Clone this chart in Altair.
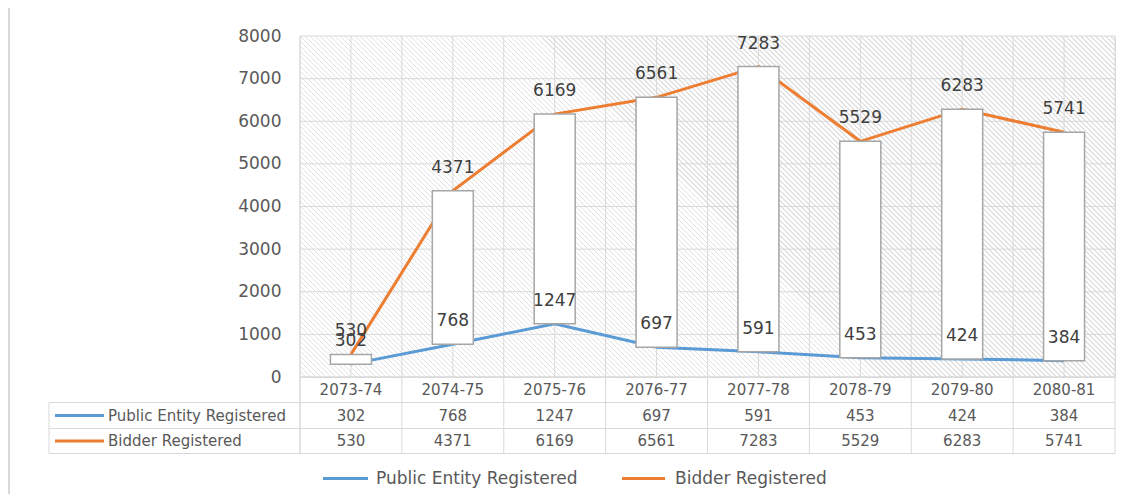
import altair as alt
import pandas as pd

# ---- data ----
categories = ["2073-74", "2074-75", "2075-76", "2076-77", "2077-78", "2078-79", "2079-80", "2080-81"]
public_entity = [302, 768, 1247, 697, 591, 453, 424, 384]
bidder = [530, 4371, 6169, 6561, 7283, 5529, 6283, 5741]
series_names = ["Public Entity Registered", "Bidder Registered"]
series_colors = ["#5B9BD5", "#ED7D31"]
y_ticks = [0, 1000, 2000, 3000, 4000, 5000, 6000, 7000, 8000]

# ---- layout ----
W, H = 815, 341
FONT = "DejaVu Sans"
TXT = "#595959"
GRID = "#d9d9d9"

# hatch pattern as a striped linear gradient (backslash stripes)
P = 5.0
N = int(round((W + H) / P))
t = (W + H) / (W * W + H * H)
HC = "#e2e2e2"
stops = []
for k in range(N):
    a = k / N
    b = (k + 0.3) / N
    c = (k + 1) / N
    stops += [{"offset": a, "color": HC}, {"offset": b, "color": HC},
              {"offset": b, "color": "#ffffff"}, {"offset": c, "color": "#ffffff"}]
hatch = {"gradient": "linear", "x1": 0, "y1": 1, "x2": t * W, "y2": 1 - t * H, "stops": stops}

df = pd.DataFrame({"cat": categories, "public": public_entity, "bidder": bidder})
long = pd.DataFrame({
    "cat": categories * 2,
    "series": [series_names[0]] * len(categories) + [series_names[1]] * len(categories),
    "value": public_entity + bidder,
})
ticks_df = pd.DataFrame({"v": y_ticks})
one = pd.DataFrame({"a": [0]})
legend_df = pd.DataFrame({"series": series_names, "color": series_colors})

xs = alt.Scale(domain=categories, type="band", paddingInner=0, paddingOuter=0)
ys = alt.Scale(domain=[0, 8000], nice=False, zero=True)
col_scale = alt.Scale(domain=series_names, range=series_colors)

X0 = alt.X("cat:N", scale=xs, axis=None, bandPosition=0)
XC = alt.X("cat:N", scale=xs, axis=None, bandPosition=0.5)

bg = alt.Chart(one).mark_rect(fill=hatch, strokeWidth=0).encode(
    x=alt.value(0), x2=alt.value(W), y=alt.value(0), y2=alt.value(H))

vgrid_edges = alt.Chart(df).mark_rule(color=GRID, strokeWidth=1).encode(
    x=X0, y=alt.value(0), y2=alt.value(H + 76.5))
vgrid_mid = alt.Chart(df).mark_rule(color=GRID, strokeWidth=1).encode(
    x=XC, y=alt.value(0), y2=alt.value(H))
right_edge = alt.Chart(one).mark_rule(color=GRID, strokeWidth=1).encode(
    x=alt.value(W), y=alt.value(0), y2=alt.value(H + 76.5))

hgrid = alt.Chart(ticks_df).mark_rule(color=GRID, strokeWidth=1).encode(
    y=alt.Y("v:Q", scale=ys, axis=alt.Axis(values=y_ticks, format="d", grid=False, ticks=False, domain=False,
                                             labelFont=FONT, labelFontSize=17, labelColor=TXT,
                                             labelPadding=19, title=None)),
    x=alt.value(0), x2=alt.value(W))

lines = alt.Chart(long).mark_line(strokeWidth=3).encode(
    x=XC,
    y=alt.Y("value:Q", scale=ys),
    color=alt.Color("series:N", scale=col_scale, legend=None),
    detail="series:N",
)

bars = alt.Chart(df).mark_bar(size=41, fill="white", stroke="#a6a6a6", strokeWidth=1.5).encode(
    x=alt.X("cat:N", scale=xs, axis=None),
    y=alt.Y("public:Q", scale=ys),
    y2="bidder:Q",
)

lab_b = alt.Chart(df).mark_text(font=FONT, fontSize=17, color="#404040", dy=-23, baseline="middle").encode(
    x=XC, y=alt.Y("bidder:Q", scale=ys), text="bidder:Q")
lab_p = alt.Chart(df).mark_text(font=FONT, fontSize=17, color="#404040", dy=-23, baseline="middle").encode(
    x=XC, y=alt.Y("public:Q", scale=ys), text="public:Q")

# ---- data table below the plot ----
row_y = [H + 38.5, H + 64]
table_hlines = [
    alt.Chart(one).mark_rule(color=GRID, strokeWidth=1).encode(
        x=alt.value(0), x2=alt.value(W), y=alt.value(H), y2=alt.value(H)),
]
for yy in [H + 25.5, H + 51.5, H + 76.5]:
    table_hlines.append(alt.Chart(one).mark_rule(color=GRID, strokeWidth=1).encode(
        x=alt.value(-251), x2=alt.value(W), y=alt.value(yy), y2=alt.value(yy)))
table_left = alt.Chart(one).mark_rule(color=GRID, strokeWidth=1).encode(
    x=alt.value(-251), y=alt.value(H + 25.5), y2=alt.value(H + 76.5))
plot_left = alt.Chart(one).mark_rule(color=GRID, strokeWidth=1).encode(
    x=alt.value(0), y=alt.value(0), y2=alt.value(H + 76.5))

header = alt.Chart(df).mark_text(font=FONT, fontSize=15, color=TXT, baseline="middle").encode(
    x=XC, y=alt.value(H + 12.5), text="cat:N")
row_pub = alt.Chart(df).mark_text(font=FONT, fontSize=15, color=TXT, baseline="middle").encode(
    x=XC, y=alt.value(row_y[0]), text="public:Q")
row_bid = alt.Chart(df).mark_text(font=FONT, fontSize=15, color=TXT, baseline="middle").encode(
    x=XC, y=alt.value(row_y[1]), text="bidder:Q")

row_keys = []
for i in range(2):
    sub = legend_df.iloc[[i]]
    row_keys.append(alt.Chart(sub).mark_rule(strokeWidth=3, color=series_colors[i]).encode(
        x=alt.value(-245), x2=alt.value(-196), y=alt.value(row_y[i]), y2=alt.value(row_y[i])))
    row_keys.append(alt.Chart(sub).mark_text(font=FONT, fontSize=15, color=TXT, align="left",
                                             baseline="middle").encode(
        x=alt.value(-192), y=alt.value(row_y[i]), text="series:N"))

# ---- bottom legend ----
LY = 442.5
leg_pos = [(23, 68, 76), (322, 365, 375)]
legend_layers = []
for i in range(2):
    sub = legend_df.iloc[[i]]
    x1, x2, tx = leg_pos[i]
    legend_layers.append(alt.Chart(sub).mark_rule(strokeWidth=3, color=series_colors[i]).encode(
        x=alt.value(x1), x2=alt.value(x2), y=alt.value(LY), y2=alt.value(LY)))
    legend_layers.append(alt.Chart(sub).mark_text(font=FONT, fontSize=17, color=TXT, align="left",
                                                  baseline="middle").encode(
        x=alt.value(tx), y=alt.value(LY), text="series:N"))

outer_left = alt.Chart(one).mark_rule(color=GRID, strokeWidth=2).encode(
    x=alt.value(-291), y=alt.value(-28), y2=alt.value(H + 117))

chart = alt.layer(
    bg, vgrid_edges, vgrid_mid, right_edge, hgrid, plot_left,
    *table_hlines, table_left,
    lines, bars, lab_b, lab_p,
    header, row_pub, row_bid, *row_keys, *legend_layers, outer_left,
).properties(
    width=W, height=H,
    autosize=alt.AutoSizeParams(type="none"),
    padding={"left": 292, "top": 28, "right": 10, "bottom": 117},
).configure_view(stroke=None).configure(background="white")

chart.save("out.html", embed_options={"renderer": "svg", "actions": False})
